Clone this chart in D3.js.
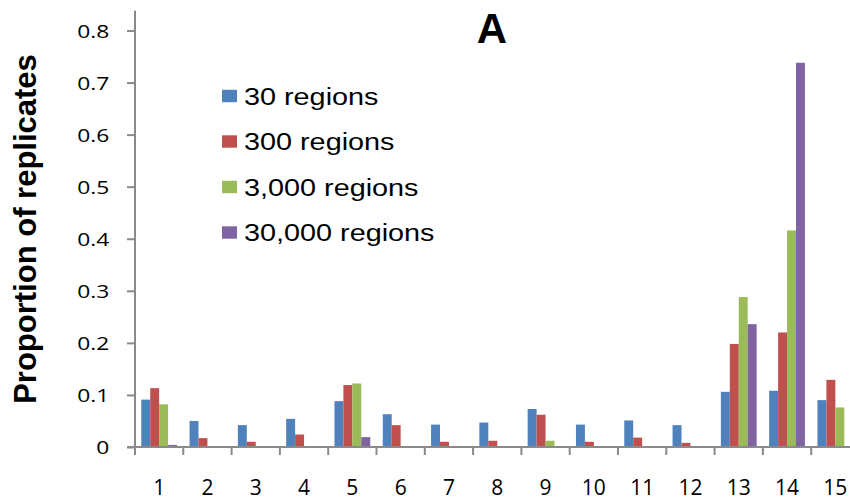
<!DOCTYPE html>
<html>
<head>
<meta charset="utf-8">
<script src="https://cdn.jsdelivr.net/npm/d3@7"></script>
<style>
  body { margin: 0; background: #fff; }
  svg { display: block; font-family: "Liberation Sans", Arial, sans-serif; }
</style>
</head>
<body>
<svg id="chart" width="850" height="502"></svg>
<script>
// data
const categories = ["1","2","3","4","5","6","7","8","9","10","11","12","13","14","15"];
const seriesNames = ["30 regions", "300 regions", "3,000 regions", "30,000 regions"];
const s30    = [0.091, 0.050, 0.042, 0.054, 0.088, 0.063, 0.043, 0.047, 0.073, 0.043, 0.051, 0.042, 0.106, 0.108, 0.090];
const s300   = [0.113, 0.017, 0.010, 0.024, 0.119, 0.042, 0.010, 0.012, 0.062, 0.010, 0.018, 0.008, 0.198, 0.220, 0.129];
const s3000  = [0.082, 0, 0, 0, 0.122, 0, 0, 0, 0.012, 0, 0, 0, 0.288, 0.416, 0.076];
const s30000 = [0.004, 0, 0, 0, 0.019, 0, 0, 0, 0, 0, 0, 0, 0.236, 0.738, 0];
const yTicks = [0, 0.1, 0.2, 0.3, 0.4, 0.5, 0.6, 0.7, 0.8];
const colors = ["#4F81BD", "#C0504D", "#9BBB59", "#8064A2"];

const allSeries = [s30, s300, s3000, s30000];

const svg = d3.select("#chart");
const axisColor = "#8a8a8a";

const x = d3.scaleBand().domain(categories).range([135, 859.5]).padding(0);
const xs = d3.scaleBand().domain(seriesNames).range([0, x.bandwidth()]).paddingOuter(0.7).paddingInner(0);
const y = d3.scaleLinear().domain([0, 0.8]).range([447, 30.5]);

// bars
const rows = [];
categories.forEach((c, i) => {
    seriesNames.forEach((s, j) => {
        rows.push({cat: c, ser: s, v: allSeries[j][i], k: j});
    });
});

svg.append("g")
    .selectAll("rect")
    .data(rows.filter(d => d.v > 0))
    .join("rect")
    .attr("x", d => x(d.cat) + xs(d.ser))
    .attr("y", d => y(d.v))
    .attr("width", xs.bandwidth())
    .attr("height", d => y(0) - y(d.v))
    .attr("fill", d => colors[d.k]);

// y axis
const yAxis = svg.append("g")
    .attr("transform", `translate(${x.range()[0]},0)`)
    .call(d3.axisLeft(y).tickValues(yTicks).tickFormat(d => d === 0 ? "0" : d3.format(".1f")(d)).tickSize(8).tickSizeOuter(0));
yAxis.select(".domain").remove();
yAxis.selectAll(".tick line").attr("stroke", axisColor).attr("stroke-width", 2);
yAxis.selectAll(".tick text")
    .attr("x", -21.5)
    .attr("dy", "0.36em")
    .attr("transform", "scale(1.2,1)")
    .attr("fill", "#000")
    .style("font-size", "19px")
    .style("font-family", "'Open Sans', 'Liberation Sans', sans-serif");

svg.append("line")
    .attr("x1", x.range()[0]).attr("x2", x.range()[0])
    .attr("y1", y(0)).attr("y2", 10.7)
    .attr("stroke", axisColor).attr("stroke-width", 2);

// x axis
svg.append("line")
    .attr("x1", x.range()[0] - 8).attr("x2", x.range()[1])
    .attr("y1", y(0)).attr("y2", y(0))
    .attr("stroke", axisColor).attr("stroke-width", 2);

const bounds = categories.map(c => x(c)).concat([x.range()[1]]);
svg.append("g")
    .selectAll("line")
    .data(bounds)
    .join("line")
    .attr("x1", d => d).attr("x2", d => d)
    .attr("y1", y(0)).attr("y2", y(0) + 8)
    .attr("stroke", axisColor).attr("stroke-width", 2);

svg.append("g")
    .selectAll("text")
    .data(categories)
    .join("text")
    .attr("x", d => x(d) + x.bandwidth() / 2)
    .attr("y", 495)
    .attr("text-anchor", "middle")
    .attr("fill", "#000")
    .style("font-size", "21px")
    .style("font-family", "'Open Sans', 'Liberation Sans', sans-serif")
    .text(d => d);

// title
svg.append("text")
    .attr("x", 492).attr("y", 43)
    .attr("text-anchor", "middle")
    .style("font-size", "42px")
    .style("font-weight", "bold")
    .text("A");

// y title
svg.append("text")
    .attr("transform", "translate(36,229) rotate(-90)")
    .attr("text-anchor", "middle")
    .style("font-size", "31px")
    .style("font-weight", "bold")
    .text("Proportion of replicates");

// legend
const legend = svg.append("g")
    .selectAll("g")
    .data(seriesNames)
    .join("g")
    .attr("transform", (d, i) => `translate(222,${96 + i * 45.5})`);

legend.append("rect")
    .attr("x", 0).attr("y", -6.2)
    .attr("width", 15).attr("height", 12.4)
    .attr("fill", (d, i) => colors[i]);

legend.append("text")
    .attr("x", 22)
    .attr("dy", "0.36em")
    .attr("transform", "translate(22,0) scale(1.2,1) translate(-22,0)")
    .style("font-size", "24px")
    .attr("fill", "#000")
    .text(d => d);
</script>
</body>
</html>
